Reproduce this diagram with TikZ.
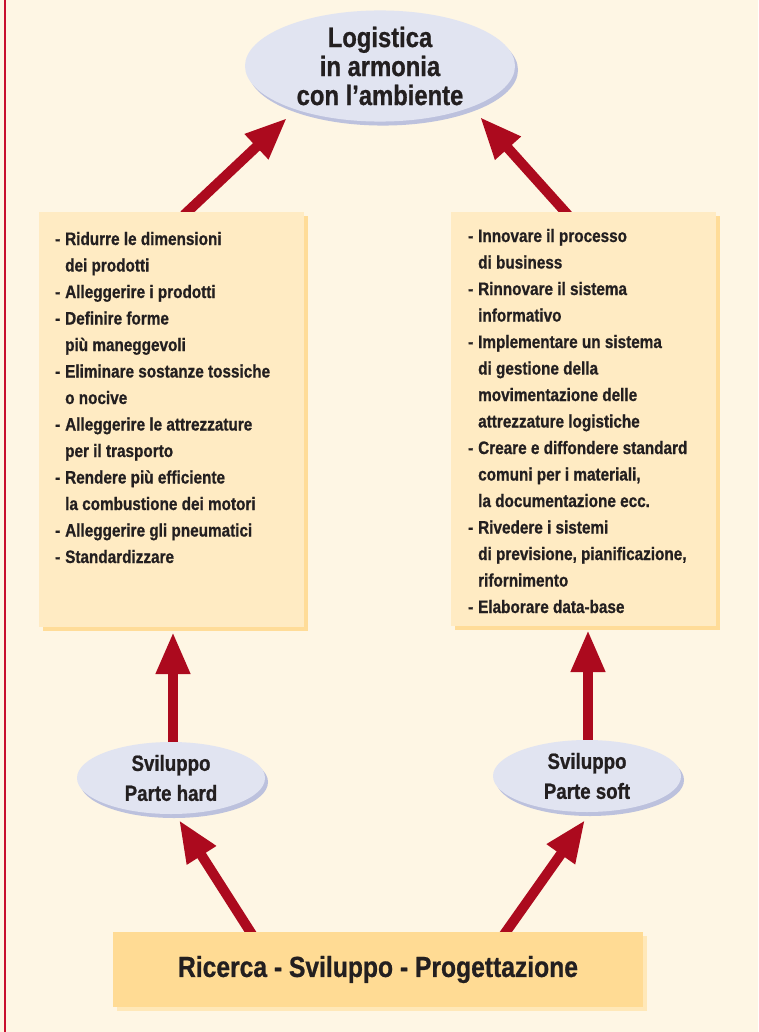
\documentclass[tikz,border=0pt]{standalone}
\usepackage{fontspec}
\setmainfont[FakeStretch=0.85, BoldFeatures={FakeBold=0.8}]{Liberation Sans}
\usetikzlibrary{shapes.geometric,arrows.meta,shadows}
\definecolor{bg}{HTML}{FEF6E4}
\definecolor{boxfill}{HTML}{FFEBC3}
\definecolor{boxshadow}{HTML}{FFDC98}
\definecolor{bottomfill}{HTML}{FFDB94}
\definecolor{bottomshadow}{HTML}{FFE8B8}
\definecolor{ellfill}{HTML}{E1E4F1}
\definecolor{ellshadow}{HTML}{BCC1DD}
\definecolor{arrred}{HTML}{AC0A1E}
\definecolor{ink}{HTML}{231F20}
\definecolor{leftred}{HTML}{C8102E}
\newcommand{\dash}{\makebox[10pt][l]{-}}
\newcommand{\ind}{\hspace*{10pt}}
\begin{document}
\begin{tikzpicture}[x=1pt,y=-1pt,
  arr/.style={draw=arrred, line width=10pt, -{Triangle[width=32pt,length=42pt]}},
  ell/.style={ellipse, fill=ellfill, inner sep=0pt, text=ink, align=center,
    drop shadow={shadow xshift=3pt, shadow yshift=-4pt, fill=ellshadow, opacity=1}},
  box/.style={rectangle, fill=boxfill, inner sep=0pt,
    drop shadow={shadow xshift=4pt, shadow yshift=-4pt, fill=boxshadow, opacity=1}},
  list/.style={anchor=base west, inner sep=0pt, text=ink, font=\bfseries\fontsize{18}{26.5}\selectfont}
]
\useasboundingbox (0,0) rectangle (758,1032);
\fill[bg] (0,0) rectangle (758,1032);
\draw[leftred, line width=2pt] (5,0) -- (5,1032);

% arrow end points
\coordinate (a1s) at (184,215); \coordinate (a1e) at (287,118);
\coordinate (a2s) at (568,215); \coordinate (a2e) at (480,117);
\coordinate (a3s) at (173,748); \coordinate (a3e) at (173,632);
\coordinate (a4s) at (588,746); \coordinate (a4e) at (588,630);
\coordinate (a5s) at (253,936); \coordinate (a5e) at (179,820);
\coordinate (a6s) at (503,936); \coordinate (a6e) at (585,820);
\draw[arr] (a1s) -- (a1e);
\draw[arr] (a2s) -- (a2e);
\draw[arr] (a3s) -- (a3e);
\draw[arr] (a4s) -- (a4e);
\draw[arr] (a5s) -- (a5e);
\draw[arr] (a6s) -- (a6e);

% top ellipse
\node[ell, minimum width=270pt, minimum height=106pt,
  font=\bfseries\fontsize{28}{29}\selectfont] (top) at (380,66)
  {Logistica\\in armonia\\con l’ambiente};

% boxes
\node[box, minimum width=265pt, minimum height=415pt] (lbox) at (171.5,419.5) {};
\node[box, minimum width=265pt, minimum height=414pt] (rbox) at (583.5,419) {};

\node[list] (ltext) at (55,245) {\begin{tabular}[t]{@{}l@{}}
\dash Ridurre le dimensioni\\
\ind dei prodotti\\
\dash Alleggerire i prodotti\\
\dash Definire forme\\
\ind più maneggevoli\\
\dash Eliminare sostanze tossiche\\
\ind o nocive\\
\dash Alleggerire le attrezzature\\
\ind per il trasporto\\
\dash Rendere più efficiente\\
\ind la combustione dei motori\\
\dash Alleggerire gli pneumatici\\
\dash Standardizzare
\end{tabular}};

\node[list] (rtext) at (468,242) {\begin{tabular}[t]{@{}l@{}}
\dash Innovare il processo\\
\ind di business\\
\dash Rinnovare il sistema\\
\ind informativo\\
\dash Implementare un sistema\\
\ind di gestione della\\
\ind movimentazione delle\\
\ind attrezzature logistiche\\
\dash Creare e diffondere standard\\
\ind comuni per i materiali,\\
\ind la documentazione ecc.\\
\dash Rivedere i sistemi\\
\ind di previsione, pianificazione,\\
\ind rifornimento\\
\dash Elaborare data-base
\end{tabular}};

% bottom ellipses
\node[ell, minimum width=188pt, minimum height=72pt,
  font=\bfseries\fontsize{22}{30}\selectfont] (hard) at (171,778) {Sviluppo\\Parte hard};
\node[ell, minimum width=188pt, minimum height=72pt,
  font=\bfseries\fontsize{22}{30}\selectfont] (soft) at (587,776) {Sviluppo\\Parte soft};

% bottom box
\node[box, fill=bottomfill, minimum width=530pt, minimum height=75pt,
  drop shadow={shadow xshift=4pt, shadow yshift=-4pt, fill=bottomshadow, opacity=1},
  text=ink, font=\bfseries\fontsize{29}{32}\selectfont] (rsp) at (378,969.5)
  {Ricerca - Sviluppo - Progettazione};
\end{tikzpicture}
\end{document}
